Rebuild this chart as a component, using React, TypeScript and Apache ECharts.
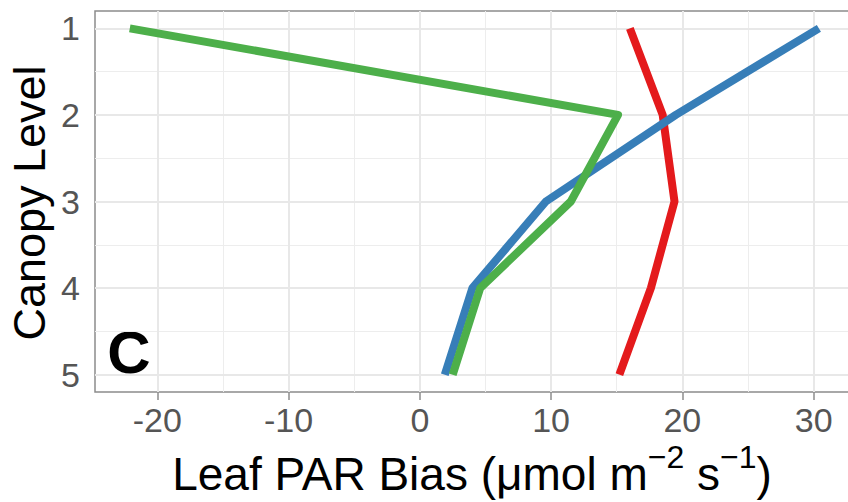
import React, { useEffect, useRef } from 'react';
import * as echarts from 'echarts';

// ---- data ----
const levels = [1, 2, 3, 4, 5];
const redBias = [16.0, 18.5, 19.4, 17.6, 15.2];
const blueBias = [30.4, 19.5, 9.6, 4.0, 1.9];
const greenBias = [-22.1, 15.1, 11.5, 4.6, 2.5];
const xTicks = [-20, -10, 0, 10, 20, 30];
const xMinor = [-15, -5, 5, 15, 25];
const yTicks = [1, 2, 3, 4, 5];
const yMinor = [1.5, 2.5, 3.5, 4.5];
const xRange = [-24.75, 33.0];
const yRange = [0.8, 5.2];
const panelLabel = 'C';
const yTitle = 'Canopy Level';
const xTitleParts = [
  { text: 'Leaf PAR Bias (\u03bcmol m', sup: false },
  { text: '\u22122', sup: true },
  { text: ' s', sup: false },
  { text: '\u22121', sup: true },
  { text: ')', sup: false },
];

const FONT = '"Liberation Sans", Arial, Helvetica, sans-serif';

function measure(text: string, size: number, weight = 'normal') {
  const c = document.createElement('canvas').getContext('2d');
  if (!c) return text.length * size * 0.55;
  c.font = `${weight} ${size}px ${FONT}`;
  return c.measureText(text).width;
}

export default function App() {
  const ref = useRef<HTMLDivElement>(null);
  useEffect(() => {
    if (!ref.current) return;
    const chart = echarts.init(ref.current, undefined, { renderer: 'svg' });

    const mainSize = 46;
    const supSize = 32;
    const widths = xTitleParts.map((p) => measure(p.text, p.sup ? supSize : mainSize));
    const total = widths.reduce((a, b) => a + b, 0);
    const centerX = 472;
    const baseY = 488;
    let cx = centerX - total / 2;
    const titleEls: any[] = xTitleParts.map((p, i) => {
      const size = p.sup ? supSize : mainSize;
      const base = p.sup ? baseY - 21 : baseY;
      const el = {
        type: 'text',
        silent: true,
        style: {
          x: cx,
          y: base - 0.31 * size,
          text: p.text,
          fontSize: size,
          fontFamily: FONT,
          fill: '#000000',
          align: 'left',
          verticalAlign: 'middle',
        },
      };
      cx += widths[i];
      return el;
    });

    const gridLines = [
      ...xMinor.map((v) => ({ xAxis: v, lineStyle: { color: '#ededed', width: 1, type: 'solid' } })),
      ...yMinor.map((v) => ({ yAxis: v, lineStyle: { color: '#ededed', width: 1, type: 'solid' } })),
      ...xTicks.map((v) => ({ xAxis: v, lineStyle: { color: '#e8e8e8', width: 2, type: 'solid' } })),
      ...yTicks.map((v) => ({ yAxis: v, lineStyle: { color: '#e8e8e8', width: 2, type: 'solid' } })),
    ];

    const lineSeries = (name: string, vals: number[], color: string, z: number) => ({
      name,
      type: 'line',
      data: levels.map((l, i) => [vals[i], l]),
      symbol: 'none',
      z,
      lineStyle: { color, width: 8, cap: 'butt', join: 'round' },
      silent: true,
    });

    chart.setOption({
      animation: false,
      grid: {
        left: 95,
        top: 11,
        right: 7,
        bottom: 110,
        show: true,
        backgroundColor: '#ffffff',
        borderColor: '#8c8c8c',
        borderWidth: 1.5,
        containLabel: false,
      },
      xAxis: {
        type: 'value',
        min: xRange[0],
        max: xRange[1],
        axisLine: { show: false },
        splitLine: { show: false },
        axisTick: {
          show: true,
          customValues: xTicks,
          length: 8,
          lineStyle: { color: '#8c8c8c', width: 1.5 },
        },
        axisLabel: {
          customValues: xTicks,
          fontSize: 34,
          fontFamily: FONT,
          color: '#555555',
          margin: 11,
        },
      },
      yAxis: {
        type: 'value',
        inverse: true,
        min: yRange[0],
        max: yRange[1],
        axisLine: { show: false },
        splitLine: { show: false },
        axisTick: {
          show: true,
          customValues: yTicks,
          length: 8,
          lineStyle: { color: '#8c8c8c', width: 1.5 },
        },
        axisLabel: {
          customValues: yTicks,
          fontSize: 34,
          fontFamily: FONT,
          color: '#555555',
          margin: 15,
        },
      },
      series: [
        {
          type: 'line',
          data: [],
          z: 1,
          silent: true,
          markLine: {
            silent: true,
            z: 1,
            symbol: ['none', 'none'],
            label: { show: false },
            animation: false,
            data: gridLines,
          },
        },
        lineSeries('Red', redBias, '#E41A1C', 3),
        lineSeries('Blue', blueBias, '#377EB8', 4),
        lineSeries('Green', greenBias, '#4DAF4A', 5),
      ],
      graphic: [
        ...titleEls,
        {
          type: 'text',
          silent: true,
          rotation: Math.PI / 2,
          x: 29,
          y: 203,
          style: {
            text: yTitle,
            fontSize: 45,
            fontFamily: FONT,
            fill: '#000000',
            align: 'center',
            verticalAlign: 'middle',
          },
        },
        {
          type: 'text',
          silent: true,
          style: {
            x: 129,
            y: 352,
            text: panelLabel,
            fontSize: 60,
            fontWeight: 'bold',
            fontFamily: FONT,
            fill: '#000000',
            align: 'center',
            verticalAlign: 'middle',
          },
        },
      ],
    });
    return () => chart.dispose();
  }, []);

  return (
    <div style={{ position: 'absolute', left: 0, top: 0, width: 848, height: 502, overflow: 'hidden', background: '#fff' }}>
      <div ref={ref} style={{ width: 860, height: 502 }} />
    </div>
  );
}
